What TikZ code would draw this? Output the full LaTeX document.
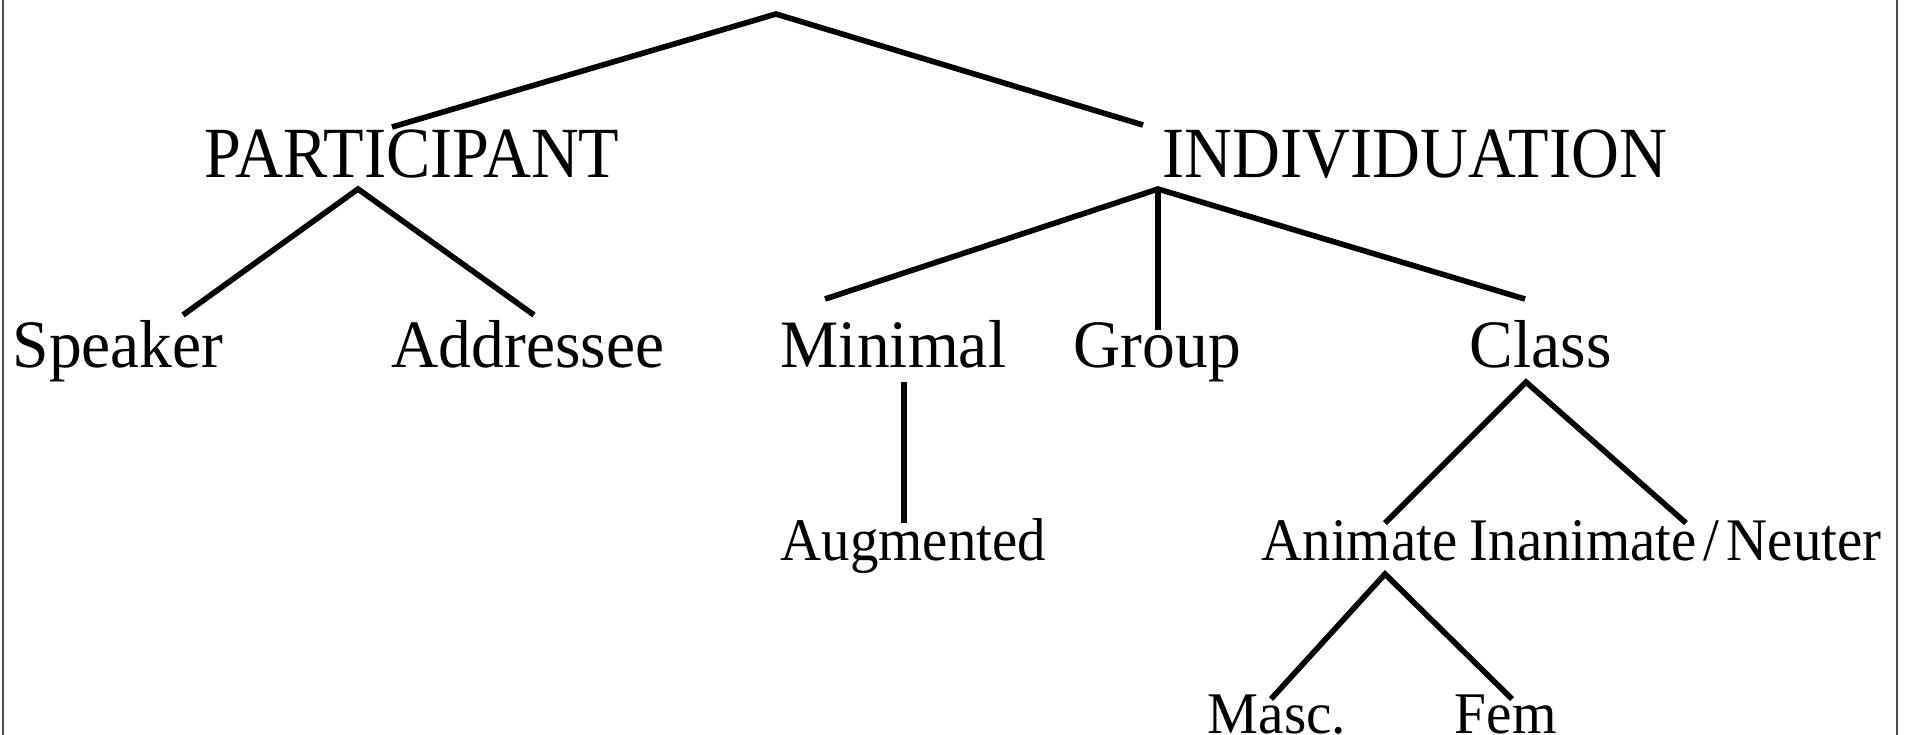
\documentclass[tikz,border=0pt]{standalone}
\usepackage{fontspec}
\setmainfont{Liberation Serif}
\newfontfamily\lvlAfont{Liberation Serif}[FakeStretch=0.92]
\newfontfamily\lvlBfont{Liberation Serif}[FakeStretch=0.965]
\newfontfamily\lvlCfont{Liberation Serif}[FakeStretch=0.94]
\newfontfamily\lvlDfont{Liberation Serif}[FakeStretch=0.97]
\begin{document}
\begin{tikzpicture}[x=0.1mm, y=-0.1mm,
  branch/.style={line width=1.6pt, black},
  lvlone/.style={anchor=base west, inner sep=0pt, font=\lvlAfont\fontsize{20.5}{24}\selectfont},
  lvltwo/.style={anchor=base west, inner sep=0pt, font=\lvlBfont\fontsize{19.3}{23}\selectfont},
  lvlthree/.style={anchor=base west, inner sep=0pt, font=\lvlCfont\fontsize{17.2}{21}\selectfont},
  lvlfour/.style={anchor=base west, inner sep=0pt, font=\lvlDfont\fontsize{16.8}{20}\selectfont}]
\useasboundingbox (0,0) rectangle (1916,734);
\clip (0,0) rectangle (1916,734);
% frame
\draw[line width=0.35pt, black!70] (3,-20) rectangle (1897,760);

% labels
\node[lvlone] (part) at (204,177) {PARTICIPANT};
\node[lvlone] (indiv) at (1162,177) {INDIVIDUATION};
\node[lvltwo] (spk) at (12,367) {Speaker};
\node[lvltwo] (addr) at (391,367) {Addressee};
\node[lvltwo] (minl) at (780,367) {Minimal};
\node[lvltwo] (grp) at (1073,367) {Group};
\node[lvltwo] (cls) at (1469,367) {Class};
\node[lvlthree] (aug) at (780,560) {Augmented};
\node[lvlthree] (anim) at (1261,560) {Animate};
\node[lvlthree] (inan) at (1469,560) {Inanimate\kern2pt/\kern2pt Neuter};
\node[lvlfour] (masc) at (1207,733) {Masc.};
\node[lvlfour] (fem) at (1454,733) {Fem};

% branch points
\coordinate (rootB) at (776,14);
\coordinate (partT) at (392,127);
\coordinate (indivT) at (1143,125);
\coordinate (partB) at (358,189);
\coordinate (spkT) at (183,315);
\coordinate (addrT) at (534,315);
\coordinate (indivB) at (1158,189);
\coordinate (minlT) at (825,299);
\coordinate (grpT) at (1158,330);
\coordinate (clsT) at (1525,299);
\coordinate (minlB) at (904,382);
\coordinate (augT) at (904,523);
\coordinate (clsB) at (1526,382);
\coordinate (animT) at (1385,523);
\coordinate (inanT) at (1686,523);
\coordinate (animB) at (1385,574);
\coordinate (mascT) at (1271,699);
\coordinate (femT) at (1512,699);

% branches
\draw[branch] (partT) -- (rootB) -- (indivT);
\draw[branch] (spkT) -- (partB) -- (addrT);
\draw[branch] (minlT) -- (indivB) -- (clsT);
\draw[branch] (indivB) -- (grpT);
\draw[branch] (minlB) -- (augT);
\draw[branch] (animT) -- (clsB) -- (inanT);
\draw[branch] (mascT) -- (animB) -- (femT);
\end{tikzpicture}
\end{document}
